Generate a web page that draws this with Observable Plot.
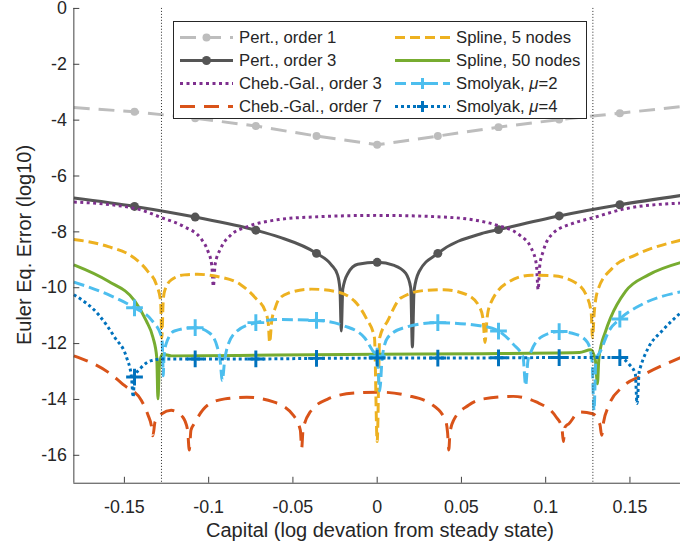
<!DOCTYPE html>
<html><head><meta charset="utf-8">
<script src="https://cdn.jsdelivr.net/npm/d3@7"></script>
<script src="https://cdn.jsdelivr.net/npm/@observablehq/plot@0.6"></script>
<style>
html,body{margin:0;padding:0;overflow:hidden;background:#fff;width:680px;height:550px}
#wrap{position:relative;width:680px;height:550px;overflow:hidden;font-family:"Liberation Sans",Arial,Helvetica,sans-serif;color:#262626}
#wrap svg{position:absolute;left:0;top:0}
.lab{position:absolute;font-size:20px;line-height:20px;white-space:nowrap;color:#262626}
</style></head><body><div id="wrap"></div>
<script>
// ---- data ----
const xTicks = [-0.15, -0.1, -0.05, 0, 0.05, 0.1, 0.15];
const yTicks = [0, -2, -4, -6, -8, -10, -12, -14, -16];
const vLines = [-0.128, 0.128];
const markX = [-0.144, -0.108, -0.072, -0.036, 0, 0.036, 0.072, 0.108, 0.144];
const legendLabels = ["Pert., order 1", "Pert., order 3", "Cheb.-Gal., order 3", "Cheb.-Gal., order 7",
                      "Spline, 5 nodes", "Spline, 50 nodes", "Smolyak, μ=2", "Smolyak, μ=4"];

const pert1 = [[-0.18,-3.55],[-0.144,-3.70],[-0.108,-3.93],[-0.072,-4.21],[-0.036,-4.57],[0,-4.88],
  [0.036,-4.57],[0.072,-4.25],[0.108,-3.98],[0.144,-3.75],[0.18,-3.52]];
const pert3 = [[-0.18,-6.79],[-0.144,-7.09],[-0.108,-7.47],[-0.072,-7.94],[-0.0585,-8.18],[-0.036,-8.77],
  [-0.0272,-9.18],[-0.0235,-9.54],[-0.0221,-10.05],[-0.0213,-11.55],[-0.0204,-10.05],[-0.0173,-9.48],
  [-0.0115,-9.16],[0,-9.09],[0.0101,-9.2],[0.0169,-9.48],[0.0199,-10.0],[0.0209,-12.12],[0.0219,-10.1],
  [0.0249,-9.42],[0.036,-8.77],[0.062,-8.06],[0.072,-7.92],[0.108,-7.43],[0.144,-7.03],[0.18,-6.7]];
const cheb3 = [[-0.18,-6.93],[-0.1432,-7.17],[-0.1275,-7.5],[-0.1144,-7.82],[-0.1046,-8.24],[-0.1007,-8.65],
  [-0.0982,-9.18],[-0.0972,-9.95],[-0.0962,-9.18],[-0.0928,-8.59],[-0.087,-8.12],[-0.0772,-7.82],
  [-0.0585,-7.56],[-0.039,-7.47],[0,-7.41],[0.0395,-7.47],[0.0591,-7.59],[0.0709,-7.76],[0.0846,-8.12],
  [0.0915,-8.59],[0.0945,-9.18],[0.0955,-10.07],[0.0965,-9.2],[0.0985,-8.7],[0.1042,-8.06],[0.116,-7.7],
  [0.1278,-7.5],[0.1474,-7.17],[0.18,-6.97]];
const cheb7 = [[-0.18,-12.44],[-0.1595,-13.03],[-0.15,-13.5],[-0.14,-14.03],[-0.136,-14.56],[-0.1338,-15.0],
  [-0.1331,-15.3],[-0.1318,-14.8],[-0.1278,-14.51],[-0.1222,-14.39],[-0.1154,-14.63],[-0.1125,-15.1],
  [-0.1115,-15.81],[-0.1105,-15.1],[-0.1085,-14.86],[-0.1007,-14.21],[-0.0904,-13.98],[-0.0774,-13.92],
  [-0.0615,-14.09],[-0.0497,-14.57],[-0.0456,-15.1],[-0.0448,-15.75],[-0.044,-15.1],[-0.0398,-14.45],
  [-0.0291,-13.98],[-0.0134,-13.77],[0.0022,-13.74],[0.0179,-13.86],[0.0316,-14.15],[0.0405,-14.74],
  [0.0418,-15.2],[0.0425,-15.81],[0.0432,-15.2],[0.0454,-14.74],[0.0542,-14.21],[0.063,-13.98],
  [0.0807,-13.89],[0.0944,-14.09],[0.1062,-14.63],[0.1096,-15.0],[0.1105,-15.51],[0.1114,-15.0],
  [0.1139,-14.86],[0.12,-14.45],[0.1278,-14.51],[0.1322,-14.9],[0.1332,-15.28],[0.1344,-14.8],
  [0.1375,-14.21],[0.1454,-13.56],[0.157,-13.15],[0.18,-12.5]];
const spline5 = [[-0.18,-8.27],[-0.1595,-8.53],[-0.1438,-8.95],[-0.136,-9.42],[-0.131,-9.89],[-0.1285,-10.48],
  [-0.1278,-11.8],[-0.127,-10.5],[-0.1262,-10.13],[-0.1222,-9.72],[-0.1144,-9.54],[-0.1066,-9.52],
  [-0.0948,-9.6],[-0.081,-9.89],[-0.0722,-10.37],[-0.0664,-10.84],[-0.0646,-11.3],[-0.0638,-11.96],
  [-0.0626,-11.2],[-0.0605,-10.72],[-0.0585,-10.43],[-0.0526,-10.19],[-0.039,-10.05],[-0.0252,-10.13],
  [-0.0134,-10.48],[-0.0066,-11.08],[-0.0016,-11.79],[0,-15.51],[0.0015,-11.79],[0.0062,-11.19],
  [0.014,-10.37],[0.0278,-10.1],[0.0395,-10.07],[0.0532,-10.25],[0.061,-10.72],[0.0628,-11.1],
  [0.064,-11.96],[0.0652,-11.1],[0.067,-10.6],[0.0787,-9.77],[0.0915,-9.55],[0.1042,-9.57],[0.118,-9.83],
  [0.1248,-10.37],[0.127,-10.9],[0.1278,-11.79],[0.1288,-10.9],[0.1307,-10.13],[0.1395,-9.3],
  [0.1532,-8.83],[0.18,-8.3]];
const spline50 = [[-0.18,-9.18],[-0.1595,-9.77],[-0.1438,-10.48],[-0.137,-11.19],[-0.133,-11.79],
  [-0.1308,-12.5],[-0.1301,-13.98],[-0.1292,-12.75],[-0.1275,-12.38],[-0.122,-12.44],[-0.06,-12.41],
  [0,-12.38],[0.06,-12.36],[0.12,-12.32],[0.1268,-12.22],[0.1295,-12.6],[0.1307,-13.44],[0.1316,-12.5],
  [0.1356,-11.55],[0.1385,-11.08],[0.1474,-10.13],[0.161,-9.54],[0.18,-9.1]];
const smol2 = [[-0.18,-9.8],[-0.1595,-10.25],[-0.144,-10.72],[-0.134,-11.15],[-0.1278,-11.79],[-0.1272,-12.6],
  [-0.127,-13.15],[-0.1265,-12.5],[-0.1253,-12.02],[-0.1203,-11.55],[-0.108,-11.43],[-0.0997,-11.61],
  [-0.0948,-12.14],[-0.0932,-12.6],[-0.0919,-13.32],[-0.0905,-12.6],[-0.089,-12.14],[-0.0832,-11.55],
  [-0.072,-11.25],[-0.0585,-11.14],[-0.036,-11.17],[-0.0193,-11.37],[-0.0075,-11.79],[-0.0026,-12.26],
  [0,-12.45],[0.0015,-13.7],[0.003,-12.5],[0.0062,-11.79],[0.016,-11.43],[0.036,-11.25],[0.062,-11.37],
  [0.072,-11.55],[0.0807,-12.02],[0.0866,-12.5],[0.0881,-13.5],[0.0895,-12.6],[0.0915,-12.26],
  [0.0984,-11.73],[0.108,-11.57],[0.118,-11.67],[0.1248,-11.96],[0.1275,-12.6],[0.1287,-14.4],
  [0.1298,-12.6],[0.1326,-12.26],[0.1375,-11.55],[0.144,-11.12],[0.157,-10.6],[0.18,-10.15]];
const smol4 = [[-0.18,-10.25],[-0.1654,-10.96],[-0.1556,-11.79],[-0.1487,-12.5],[-0.1458,-13.2],
  [-0.1448,-13.92],[-0.144,-13.2],[-0.1399,-12.85],[-0.134,-12.61],[-0.1272,-12.55],[-0.108,-12.55],
  [-0.072,-12.55],[-0.036,-12.53],[0,-12.52],[0.036,-12.52],[0.072,-12.51],[0.108,-12.5],[0.144,-12.5],
  [0.1493,-12.73],[0.1532,-13.09],[0.1542,-14.15],[0.1555,-13.0],[0.1562,-12.85],[0.161,-12.14],
  [0.169,-11.55],[0.18,-10.9]];

// ---- styles ----
const series = [
  {data: pert1,    label: legendLabels[0], color: "#bdbdbd", dash: "16,9", curve: "linear", marker: "circle", r: 4},
  {data: pert3,    label: legendLabels[1], color: "#555555", dash: null, curve: "monotone-x", marker: "circle", r: 4.5},
  {data: cheb3,    label: legendLabels[2], color: "#7E2F8E", dash: "3,3.5", curve: "monotone-x"},
  {data: cheb7,    label: legendLabels[3], color: "#D95319", dash: "15,9", curve: "monotone-x"},
  {data: spline5,  label: legendLabels[4], color: "#EDB120", dash: "10,5", curve: "monotone-x"},
  {data: spline50, label: legendLabels[5], color: "#77AC30", dash: null, curve: "monotone-x"},
  {data: smol2,    label: legendLabels[6], color: "#4DBEEE", dash: "11,5", curve: "monotone-x", marker: "plus", r: 5.5},
  {data: smol4,    label: legendLabels[7], color: "#0072BD", dash: "3,3", curve: "monotone-x", marker: "plus", r: 5.5}
];
const isMark = d => markX.some(m => Math.abs(m - d[0]) < 1e-9);

const marks = [];
for (const s of series) {
  marks.push(Plot.line(s.data, {x: d => d[0], y: d => d[1], stroke: s.color, strokeWidth: 3,
    strokeDasharray: s.dash, curve: s.curve, strokeLinecap: "butt", strokeLinejoin: "round"}));
  if (s.marker === "circle") {
    marks.push(Plot.dot(s.data.filter(isMark), {x: d => d[0], y: d => d[1], r: s.r, fill: s.color, stroke: "none"}));
  } else if (s.marker === "plus") {
    marks.push(Plot.dot(s.data.filter(isMark), {x: d => d[0], y: d => d[1], r: s.r, symbol: "plus",
      fill: "none", stroke: s.color, strokeWidth: 3}));
  }
}
marks.push(Plot.ruleX(vLines, {stroke: "#262626", strokeWidth: 1, strokeDasharray: "1,2"}));
marks.push(Plot.ruleX([-0.18], {stroke: "#404040", strokeWidth: 1}));
marks.push(Plot.ruleY([-17], {stroke: "#404040", strokeWidth: 1}));
marks.push(Plot.axisX(xTicks, {tickFormat: d => String(d), tickSize: -6, tickPadding: 23, fontSize: 18, label: null, stroke: "#404040"}));
marks.push(Plot.axisY(yTicks, {tickFormat: d => String(d), tickSize: -6, tickPadding: 13, fontSize: 18, label: null, stroke: "#404040"}));

const chart = Plot.plot({
  width: 686, height: 550,
  marginLeft: 74, marginRight: 0, marginTop: 8, marginBottom: 63,
  x: {domain: [-0.18, 0.18]},
  y: {domain: [-17, 0]},
  style: {fontFamily: '"Liberation Sans", Arial, Helvetica, sans-serif', color: "#262626", background: "transparent", overflow: "visible"},
  marks
});
const wrap = document.getElementById("wrap");
wrap.appendChild(chart);

// axis labels
const xl = document.createElement("div");
xl.className = "lab"; xl.textContent = "Capital (log devation from steady state)";
xl.style.left = "380px"; xl.style.top = "520px"; xl.style.transform = "translateX(-50%)";
wrap.appendChild(xl);
const yl = document.createElement("div");
yl.className = "lab"; yl.textContent = "Euler Eq. Error (log10)";
yl.style.left = "24px"; yl.style.top = "245px"; yl.style.transform = "translate(-50%,-50%) rotate(-90deg)";
wrap.appendChild(yl);

// legend (inside the axes, like the reference)
const leg = d3.select(wrap).append("svg").attr("width", 680).attr("height", 550)
  .style("font-family", '"Liberation Sans", Arial, Helvetica, sans-serif').style("font-size", "16.7px");
leg.append("rect").attr("x", 173.5).attr("y", 21.5).attr("width", 413).attr("height", 97)
  .attr("fill", "#fff").attr("stroke", "#262626").attr("stroke-width", 1);
series.forEach((s, i) => {
  const col = i < 4 ? 0 : 1, row = i % 4;
  const x0 = col ? 395 : 180, x1 = col ? 450 : 233, tx = col ? 456 : 239;
  const cy = 37.5 + row * 23;
  leg.append("line").attr("x1", x0).attr("x2", x1).attr("y1", cy).attr("y2", cy)
    .attr("stroke", s.color).attr("stroke-width", 3).attr("stroke-dasharray", s.dash || null);
  const mx = (x0 + x1) / 2;
  if (s.marker === "circle") leg.append("circle").attr("cx", mx).attr("cy", cy).attr("r", s.r).attr("fill", s.color);
  if (s.marker === "plus") leg.append("path").attr("d", `M${mx-5.5},${cy}H${mx+5.5}M${mx},${cy-5.5}V${cy+5.5}`)
    .attr("stroke", s.color).attr("stroke-width", 3).attr("fill", "none");
  const t = leg.append("text").attr("x", tx).attr("y", cy).attr("dy", "0.35em").attr("fill", "#262626");
  const m = s.label.match(/^(.*)μ(.*)$/);
  if (m) {
    t.append("tspan").text(m[1]);
    t.append("tspan").attr("font-style", "italic").text("μ");
    t.append("tspan").text(m[2]);
  } else t.text(s.label);
});
</script></body></html>
